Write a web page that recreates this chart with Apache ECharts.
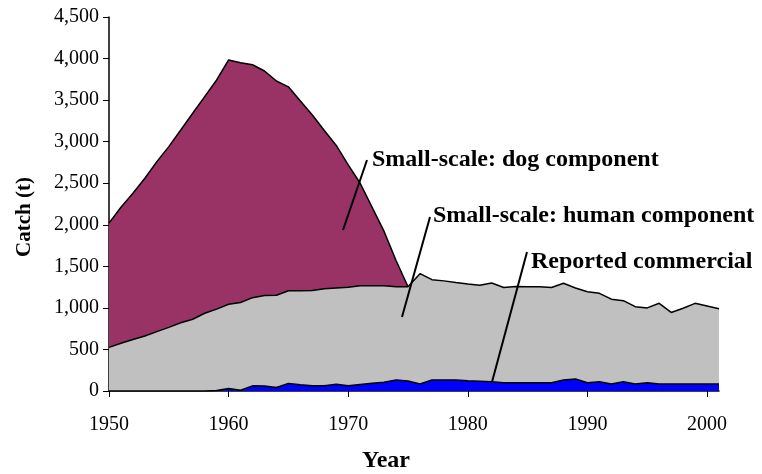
<!DOCTYPE html>
<html>
<head>
<meta charset="utf-8">
<script src="https://cdn.jsdelivr.net/npm/echarts@6/dist/echarts.min.js"></script>
<style>
html,body{margin:0;padding:0;background:#fff;}
#chart{width:762px;height:474px;}
</style>
</head>
<body>
<div id="chart"></div>
<script>
var years = [];
for (var y = 1950; y <= 2001; y++) years.push(String(y));

var commercial = [0,0,0,0,0,0,0,0,0,5,
  30,10,62,60,42,90,76,64,64,80,
  64,78,92,105,132,120,84,132,132,132,
  124,118,112,100,100,100,100,100,132,144,
  100,112,84,112,84,100,84,84,84,84,
  84,84];

var human = [525,575,620,662,714,766,822,863,935,980,
  1013,1055,1061,1090,1110,1117,1131,1146,1166,1160,
  1184,1189,1175,1162,1123,1135,1328,1208,1193,1173,
  1164,1154,1188,1145,1158,1155,1155,1145,1164,1096,
  1095,1063,1021,975,931,900,971,861,911,971,
  939,906];

var dog = [1495,1635,1760,1898,2046,2174,2318,2479,2607,2757,
  2940,2885,2802,2700,2578,2453,2283,2110,1905,1715,
  1472,1233,943,653,315,0,null,null,null,null,
  null,null,null,null,null,null,null,null,null,null,
  null,null,null,null,null,null,null,null,null,null,
  null,null];

var yTicks = {min: 0, max: 4500, interval: 500};

var FONT = "'Liberation Serif','Times New Roman',serif";

var chart = echarts.init(document.getElementById('chart'));
function areaSeries(name, data, color) {
  return {
    name: name, type: 'line', stack: 'total', data: data,
    symbol: 'none', smooth: false, connectNulls: false,
    lineStyle: {color: '#000', width: 1.5},
    areaStyle: {color: color, opacity: 1},
    itemStyle: {color: color}
  };
}
chart.setOption({
  animation: false,
  backgroundColor: '#fff',
  textStyle: {fontFamily: FONT},
  grid: {left: 109, right: 43, top: 17, bottom: 83, containLabel: false},
  xAxis: {
    type: 'category', data: years, boundaryGap: false,
    axisLine: {lineStyle: {color: '#000', width: 1.5}},
    axisTick: {length: 6, lineStyle: {color: '#000'},
      interval: function (i, v) { return (Number(v) - 1950) % 10 === 0; }},
    axisLabel: {color: '#000', fontFamily: FONT, fontSize: 20, margin: 24,
      interval: function (i, v) { return (Number(v) - 1950) % 10 === 0; }},
    splitLine: {show: false}
  },
  yAxis: {
    type: 'value', min: yTicks.min, max: yTicks.max, interval: yTicks.interval,
    axisLine: {show: true, lineStyle: {color: '#000', width: 1.5}},
    axisTick: {show: true, length: 6, lineStyle: {color: '#000'}},
    axisLabel: {color: '#000', fontFamily: FONT, fontSize: 20, margin: 10,
      formatter: function (v) { return v.toLocaleString('en-US'); }},
    splitLine: {show: false}
  },
  series: [
    areaSeries('Reported commercial', commercial, '#0000FF'),
    areaSeries('Small-scale: human component', human, '#C0C0C0'),
    areaSeries('Small-scale: dog component', dog, '#993366')
  ],
  graphic: [
    {type: 'text', x: 25, y: 217, rotation: Math.PI / 2, z: 100,
      style: {text: 'Catch (t)', fill: '#000', font: 'bold 21px ' + FONT, align: 'center', verticalAlign: 'middle'}},
    {type: 'text', x: 386, y: 461, z: 100,
      style: {text: 'Year', fill: '#000', font: 'bold 24px ' + FONT, align: 'center', verticalAlign: 'middle'}},
    {type: 'line', shape: {x1: 343, y1: 230, x2: 367, y2: 160}, style: {stroke: '#000', lineWidth: 2}, z: 100},
    {type: 'line', shape: {x1: 402, y1: 317, x2: 430, y2: 217}, style: {stroke: '#000', lineWidth: 2}, z: 100},
    {type: 'line', shape: {x1: 492, y1: 382, x2: 527, y2: 252}, style: {stroke: '#000', lineWidth: 2}, z: 100},
    {type: 'text', x: 372, y: 160, z: 100, style: {text: 'Small-scale: dog component', fill: '#000', font: 'bold 24px ' + FONT, verticalAlign: 'middle'}},
    {type: 'text', x: 433, y: 216, z: 100, style: {text: 'Small-scale: human component', fill: '#000', font: 'bold 24px ' + FONT, verticalAlign: 'middle'}},
    {type: 'text', x: 531, y: 262, z: 100, style: {text: 'Reported commercial', fill: '#000', font: 'bold 24px ' + FONT, verticalAlign: 'middle'}}
  ]
});
</script>
</body>
</html>
